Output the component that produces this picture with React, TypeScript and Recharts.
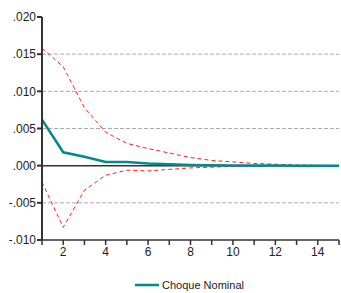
import { LineChart, Line, XAxis, YAxis, ReferenceLine, Legend } from "recharts";

const periods = [1, 2, 3, 4, 5, 6, 7, 8, 9, 10, 11, 12, 13, 14, 15];
const response = [0.0062, 0.0018, 0.0012, 0.0005, 0.0005, 0.0003, 0.0002, 0.0001, 0.00005, 0.00003, 0.00002, 0.00001, 0.0, 0.0, 0.0];
const upperBand = [0.0158, 0.0133, 0.0078, 0.0045, 0.003, 0.0023, 0.0017, 0.0011, 0.0007, 0.0005, 0.0003, 0.0002, 0.0001, 0.00005, 0.00003];
const lowerBand = [-0.0022, -0.0083, -0.0033, -0.0013, -0.0006, -0.0007, -0.0005, -0.0003, -0.0002, -0.0001, -0.00006, -0.00004, -0.00002, -0.00001, 0.0];
const yTicks = [-0.01, -0.005, 0, 0.005, 0.01, 0.015, 0.02];
const gridLines = [-0.005, 0.005, 0.01, 0.015];

const data = periods.map((p, i) => ({
  period: p,
  response: response[i],
  upper: upperBand[i],
  lower: lowerBand[i]
}));

const fmt = (v: number) => {
  const s = Math.abs(v).toFixed(3).replace(/^0/, "");
  return v < 0 ? "-" + s : s;
};

const axisText = { fill: "#222", fontSize: 12, fontFamily: "Liberation Sans, Arial, sans-serif" };

function LegendBox() {
  return (
    <div style={{ display: "flex", alignItems: "center", justifyContent: "center", paddingLeft: 40, fontFamily: "Liberation Sans, Arial, sans-serif", fontSize: 11, color: "#222" }}>
      <svg width={24} height={6} style={{ marginRight: 3 }}>
        <line x1={0} y1={3} x2={24} y2={3} stroke="#008a8a" strokeWidth={2.5} />
      </svg>
      <span>Choque Nominal</span>
    </div>
  );
}

export default function App() {
  return (
    <div style={{ position: "absolute", left: 0, top: 0, background: "#fff" }}>
      <LineChart width={341} height={293} data={data} margin={{ top: 17, right: 2, bottom: 11, left: 0 }}>
        {gridLines.map((g) => (
          <ReferenceLine key={g} y={g} stroke="#aaa" strokeDasharray="4 2" />
        ))}
        <ReferenceLine y={0} stroke="#333" strokeWidth={1.5} />
        <XAxis
          dataKey="period"
          type="number"
          domain={[1, 15]}
          ticks={periods}
          tickFormatter={(v: number) => (v % 2 === 0 ? String(v) : "")}
          interval={0}
          stroke="#333"
          strokeWidth={1.5}
          tickSize={5}
          tick={axisText}
          tickMargin={2}
        />
        <YAxis
          type="number"
          domain={[-0.01, 0.02]}
          ticks={yTicks}
          tickFormatter={fmt}
          interval={0}
          width={42}
          stroke="#333"
          strokeWidth={2}
          tickSize={5}
          tick={axisText}
          tickMargin={1}
        />
        <Line dataKey="upper" stroke="#ff2020" strokeWidth={1} strokeDasharray="4 3" dot={false} isAnimationActive={false} legendType="none" />
        <Line dataKey="lower" stroke="#ff2020" strokeWidth={1} strokeDasharray="4 3" dot={false} isAnimationActive={false} legendType="none" />
        <Line dataKey="response" stroke="#008a8a" strokeWidth={2.5} dot={false} isAnimationActive={false} name="Choque Nominal" />
        <Legend verticalAlign="bottom" content={() => <LegendBox />} wrapperStyle={{ bottom: 2 }} />
      </LineChart>
    </div>
  );
}
